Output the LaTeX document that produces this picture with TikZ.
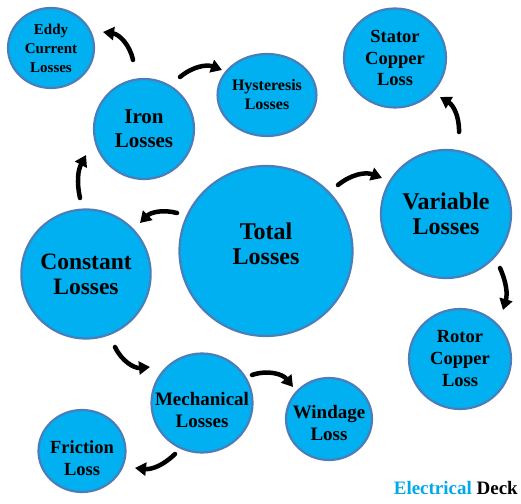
\documentclass[tikz,border=0pt]{standalone}
\usepackage{fontspec}
\setmainfont{Liberation Serif}
\usetikzlibrary{shapes.geometric,arrows.meta,calc}
\definecolor{bubfill}{HTML}{00B0F0}
\definecolor{bubline}{HTML}{4A7EBB}
\definecolor{brand}{HTML}{00A8EC}
\newcommand{\fsz}[2]{\bfseries\fontsize{#1}{#2}\selectfont}
\begin{document}
\begin{tikzpicture}[x=1pt,y=1pt,
  bubble/.style={ellipse, draw=bubline, line width=2.2pt, fill=bubfill, inner sep=0pt, align=center},
  txt/.style={align=center, inner sep=0pt},
  arr/.style={-{Triangle[length=11pt,width=13pt]}, line width=4.5pt, line cap=round, black}]
\useasboundingbox (0,0) rectangle (521,503);

\node[bubble, minimum width=86pt, minimum height=80pt, font=\fsz{15}{19}] (eddy) at (51,455) {Eddy\\Current\\Losses};
\node[bubble, minimum width=100pt, minimum height=100pt, font=\fsz{21}{24}] (iron) at (144,374) {Iron\\Losses};
\node[bubble, minimum width=89pt, minimum height=82pt, font=\fsz{16}{19}] (hyst) at (267,408) {Hysteresis\\Losses};
\node[bubble, minimum width=102pt, minimum height=99pt, font=\fsz{18.5}{21.5}] (stator) at (395,445) {Stator\\Copper\\Loss};
\node[bubble, minimum width=173pt, minimum height=170pt,
  label={[txt, font=\fsz{24}{25}, yshift=7pt]center:Total\\Losses}] (total) at (266,252) {};
\node[bubble, minimum width=130pt, minimum height=128pt, font=\fsz{24}{25}] (variable) at (446,289) {Variable\\Losses};
\node[bubble, minimum width=129pt, minimum height=129pt, font=\fsz{23.5}{25}] (constant) at (86,229) {Constant\\Losses};
\node[bubble, minimum width=102pt, minimum height=100pt, font=\fsz{18.5}{22}] (rotor) at (460,144) {Rotor\\Copper\\Loss};
\node[bubble, minimum width=101pt, minimum height=99pt,
  label={[txt, font=\fsz{19}{22}, yshift=-7pt]center:Mechanical\\Losses}] (mech) at (202,100) {};
\node[bubble, minimum width=86pt, minimum height=82pt,
  label={[txt, font=\fsz{19}{22}, yshift=-4pt]center:Windage\\Loss}] (windage) at (329,84) {};
\node[bubble, minimum width=87pt, minimum height=82pt,
  label={[txt, font=\fsz{18.5}{22}, yshift=-7pt]center:Friction\\Loss}] (friction) at (82,52) {};

\node[anchor=base east, inner sep=0pt, font=\fsz{19}{22}] (brandtext) at (518,9) {\textcolor{brand}{Electrical} Deck};

\coordinate (a1s) at ($(iron)+(-11,69)$);   \coordinate (a1e) at ($(eddy)+(52,16)$);
\coordinate (a2s) at ($(iron)+(36,52)$);    \coordinate (a2e) at ($(hyst)+(-45,25)$);
\coordinate (a3s) at ($(constant)+(-6,76)$); \coordinate (a3e) at ($(iron)+(-58,-26)$);
\coordinate (a4s) at ($(total)+(-89,38)$);  \coordinate (a4e) at ($(constant)+(54,51)$);
\coordinate (a5s) at ($(total)+(72,66)$);   \coordinate (a5e) at ($(variable)+(-64,36)$);
\coordinate (a6s) at ($(variable)+(13,82)$); \coordinate (a6e) at ($(stator)+(45,-39)$);
\coordinate (a7s) at ($(variable)+(54,-54)$); \coordinate (a7e) at ($(rotor)+(43,49)$);
\coordinate (a8s) at ($(constant)+(29,-73)$); \coordinate (a8e) at ($(mech)+(-52,36)$);
\coordinate (a9s) at ($(mech)+(50,28)$);    \coordinate (a9e) at ($(windage)+(-36,32)$);
\coordinate (a10s) at ($(mech)+(-27,-51)$); \coordinate (a10e) at ($(friction)+(53,-17)$);

\draw[arr] (a1s) to[bend right=35] (a1e);
\draw[arr] (a2s) to[bend left=30] (a2e);
\draw[arr] (a3s) to[bend left=20] (a3e);
\draw[arr] (a4s) to[bend right=30] (a4e);
\draw[arr] (a5s) to[bend left=30] (a5e);
\draw[arr] (a6s) to[bend right=30] (a6e);
\draw[arr] (a7s) to[bend left=20] (a7e);
\draw[arr] (a8s) to[bend right=35] (a8e);
\draw[arr] (a9s) to[bend left=35] (a9e);
\draw[arr] (a10s) to[bend left=25] (a10e);
\end{tikzpicture}
\end{document}
